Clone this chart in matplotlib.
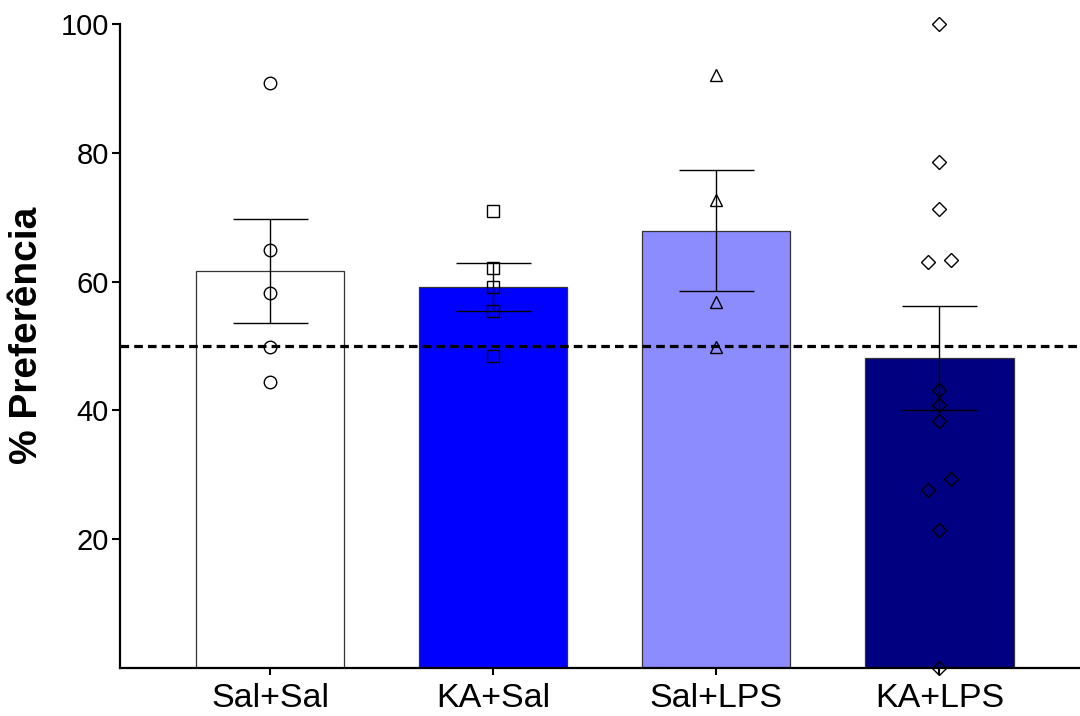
import numpy as np
import matplotlib
matplotlib.use("Agg")
import matplotlib.pyplot as plt

plt.rcParams['font.family'] = ['Liberation Sans', 'DejaVu Sans']

categories = ["Sal+Sal", "KA+Sal", "Sal+LPS", "KA+LPS"]
sal_sal = [90.8, 64.9, 58.2, 49.8, 44.4]
ka_sal = [71.0, 62.1, 59.1, 55.5, 48.4]
sal_lps = [92.1, 72.7, 56.9, 49.9]
ka_lps = [100.0, 78.5, 71.3, 63.1, 63.4, 43.2, 40.8, 38.4, 29.3, 27.6, 21.4, 0.0]
groups = [sal_sal, ka_sal, sal_lps, ka_lps]
chance_level = 50
yticks = [20, 40, 60, 80, 100]

bar_colors = ["#FFFFFF", "#0000FF", "#8C8CFF", "#000080"]
markers = ["o", "s", "^", "D"]
jitter = [
    [0, 0, 0, 0, 0],
    [0, 0, 0, 0, 0],
    [0, 0, 0, 0],
    [0, 0, 0, -0.053, 0.053, 0, 0, 0, 0.053, -0.053, 0, 0],
]
marker_sizes = [9, 9, 9, 7.5]

fig = plt.figure(figsize=(10.8, 7.16), dpi=100)
ax = fig.add_axes([120/1080, 1 - 668/716, 1 - 120/1080, (668 - 24)/716])

x = np.arange(len(categories))
means = [np.mean(g) for g in groups]
sems = [np.std(g, ddof=1) / np.sqrt(len(g)) for g in groups]

ax.bar(x, means, width=0.664, color=bar_colors, edgecolor="#333333", linewidth=0.9, zorder=1)
ax.errorbar(x, means, yerr=sems, fmt="none", ecolor="black", elinewidth=1.0,
            capsize=27, capthick=1.0, zorder=3)
ax.axhline(chance_level, color="black", linestyle=(0, (2.7, 1.6)), linewidth=2.3, zorder=2)

for i, g in enumerate(groups):
    xs = x[i] + np.array(jitter[i])
    ax.plot(xs, g, linestyle="none", marker=markers[i], markersize=marker_sizes[i],
            markerfacecolor="none", markeredgecolor="black", markeredgewidth=1.0,
            zorder=4, clip_on=False)

ax.set_xlim(-0.673, 3.63)
ax.set_ylim(0, 100)
ax.set_yticks(yticks)
ax.set_yticklabels([str(t) for t in yticks], fontsize=21)
ax.set_xticks(x)
ax.set_xticklabels(categories, fontsize=24.5)
ax.tick_params(axis="y", length=6, width=1.5, pad=2)
ax.tick_params(axis="x", length=5, width=1.5, pad=6)
ax.spines["top"].set_visible(False)
ax.spines["right"].set_visible(False)
ax.spines["left"].set_linewidth(1.6)
ax.spines["bottom"].set_linewidth(1.6)
ax.set_ylabel("% Preferência", fontsize=28, fontweight="bold")
ax.yaxis.set_label_coords(-0.078, 0.517)

fig.savefig("out.png", dpi=100)
